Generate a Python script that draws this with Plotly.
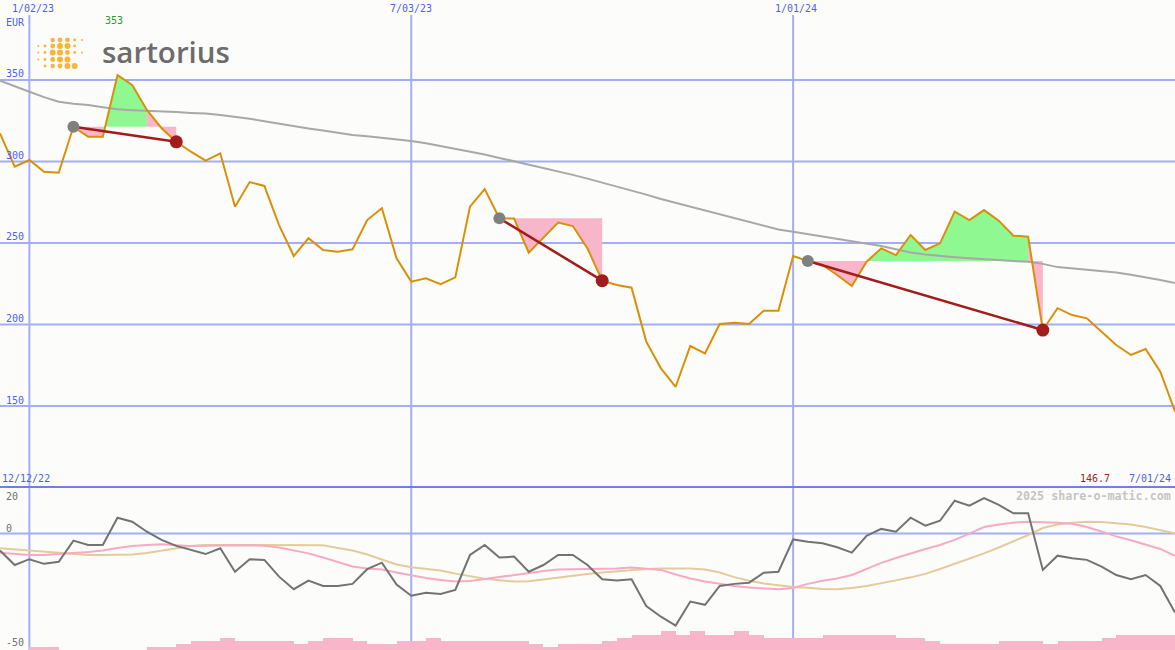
import plotly.graph_objects as go
import pandas as pd

# ---------------- data ----------------
start_date = "2022-12-19"
end_date = "2024-07-01"

price = [317.3, 296.8, 300.9, 293.7, 293.1, 321.3, 315.2, 315.2, 353.0, 347.0,
         331.6, 320.4, 312.1, 306.0, 300.5, 305.0, 272.3, 287.4, 285.0, 261.0,
         242.0, 252.9, 245.7, 244.7, 246.1, 264.1, 271.3, 240.6, 226.3, 228.3,
         224.8, 228.9, 272.3, 283.1, 265.2, 265.0, 244.1, 253.3, 262.5, 260.4,
         246.7, 226.9, 224.2, 222.6, 189.5, 173.1, 161.8, 186.8, 182.3, 200.3,
         201.1, 200.3, 208.5, 208.5, 242.0, 239.0, 236.5, 230.4, 223.6, 238.5,
         246.7, 242.6, 254.9, 245.7, 249.8, 269.2, 264.1, 270.2, 263.7, 254.5,
         253.9, 196.6, 210.0, 205.8, 203.8, 195.6, 187.4, 181.3, 185.0, 171.0, 146.7]

moving_avg = [349.6, 346.0, 342.8, 339.5, 336.7, 335.5, 334.7, 333.3, 332.0, 331.5,
              331.2, 330.7, 330.3, 329.8, 329.4, 328.5, 327.5, 326.2, 324.7, 323.1,
              321.5, 320.3, 319.0, 317.6, 316.3, 315.5, 314.6, 313.6, 312.6, 311.2,
              309.5, 307.7, 306.0, 304.3, 302.2, 300.2, 298.2, 296.2, 294.2, 291.8,
              289.5, 287.1, 284.8, 282.3, 279.7, 277.0, 274.7, 272.4, 270.1, 267.8,
              265.5, 263.0, 260.6, 258.3, 256.9, 255.5, 254.0, 252.4, 250.9, 249.5,
              248.2, 246.2, 244.2, 243.0, 242.0, 241.3, 240.6, 239.9, 239.4, 238.9,
              238.5, 237.2, 235.2, 234.4, 233.6, 232.7, 231.9, 230.5, 229.1, 227.3, 225.5]

oscillator = [-7.3, -13.5, -11.0, -13.0, -12.1, -3.0, -4.9, -4.9, 6.8, 5.1,
              0.8, -2.7, -5.3, -7.0, -8.8, -6.3, -16.4, -11.0, -11.3, -18.5,
              -23.9, -20.2, -22.5, -22.5, -21.6, -15.3, -12.5, -21.9, -26.7, -25.4,
              -25.9, -24.2, -9.2, -4.9, -10.3, -9.9, -16.4, -13.5, -9.2, -9.2,
              -13.5, -19.6, -20.2, -19.6, -31.1, -35.7, -39.5, -29.2, -30.6, -22.5,
              -21.6, -21.1, -16.8, -16.4, -2.5, -3.5, -4.2, -5.9, -8.2, -1.0,
              2.0, 0.8, 6.8, 3.4, 5.5, 14.1, 12.0, 15.2, 12.3, 8.7,
              8.7, -15.6, -9.5, -10.6, -11.3, -14.2, -17.8, -19.6, -17.8, -22.5, -33.9]

signal_fast = [-8.2, -8.8, -9.2, -9.2, -8.9, -8.3, -7.9, -7.3, -6.2, -5.3,
               -4.9, -4.6, -5.0, -5.3, -5.2, -5.0, -5.0, -5.1, -5.2, -6.0,
               -7.3, -8.5, -10.3, -12.2, -14.1, -15.0, -15.4, -16.7, -18.0, -19.1,
               -19.9, -20.6, -20.4, -19.5, -18.6, -17.8, -16.9, -16.1, -15.4, -15.2,
               -15.2, -15.1, -15.0, -14.6, -15.1, -15.6, -17.6, -19.3, -20.6, -21.6,
               -22.5, -23.2, -23.6, -23.9, -23.4, -21.6, -20.3, -19.3, -17.8, -15.2,
               -12.6, -10.5, -8.5, -6.6, -4.9, -2.7, 0.0, 2.8, 3.9, 4.7,
               5.1, 5.0, 4.6, 4.2, 2.8, 0.9, -1.2, -2.9, -4.7, -6.6, -9.6]

signal_slow = [-6.3, -6.8, -7.3, -7.7, -8.2, -9.0, -9.2, -9.2, -9.2, -9.0,
               -8.3, -7.3, -6.0, -5.3, -4.9, -4.9, -4.9, -4.8, -4.7, -4.7,
               -4.7, -4.9, -5.0, -6.2, -7.3, -9.0, -11.3, -13.3, -14.5, -15.1,
               -15.9, -17.2, -18.4, -19.4, -20.0, -20.6, -20.5, -19.7, -18.7, -18.0,
               -17.4, -16.7, -16.1, -15.6, -15.2, -15.0, -14.9, -15.0, -15.4, -16.7,
               -18.7, -20.3, -21.4, -22.3, -22.9, -23.3, -23.8, -23.9, -23.4, -22.5,
               -21.4, -20.1, -18.8, -17.3, -15.2, -13.0, -10.9, -8.5, -6.0, -3.4,
               -0.6, 2.4, 3.9, 4.6, 5.1, 5.0, 4.5, 3.9, 2.8, 1.5, 0.1]

volume_bars = [0, 0, 3, 3, 0, 0, 0, 0, 0, 0,
               3, 3, 6, 9, 9, 12, 9, 9, 9, 9,
               6, 9, 12, 12, 9, 6, 6, 9, 9, 12,
               9, 9, 9, 9, 9, 9, 6, 3, 6, 6,
               6, 9, 12, 15, 15, 19, 15, 19, 15, 15,
               19, 15, 12, 12, 12, 12, 15, 15, 15, 15,
               15, 12, 12, 9, 6, 6, 6, 6, 9, 9,
               9, 6, 9, 9, 9, 12, 15, 15, 15, 15, 15]

trade_buy_idx = [5, 34, 55]
trade_sell_idx = [12, 41, 71]

grid_dates = ["2023-01-02", "2023-07-03", "2024-01-01"]
grid_labels = ["1/02/23", "7/03/23", "1/01/24"]
price_ticks = [350, 300, 250, 200, 150]
osc_tick_labels = ["20", "0", "-50"]

dates = pd.date_range(start_date, periods=len(price), freq="7D")

# ---------------- styling ----------------
W, H = 1175, 650
BG = "#fcfdfa"
GRID = "#a4aef4"
SEP = "#6f7fe6"
BLUE_TXT = "#4e5ff0"
PRICE_C = "#d8900a"
MA_C = "#a8a8a8"
GREEN_F = "#90f890"
PINK_F = "#f9b5ca"
RED = "#a31c1c"
MONO = "DejaVu Sans Mono"

SPLIT = 487  # pixel row of the panel separator


def px(x):
    return x / W


def py(y):
    return 1 - y / H


fig = go.Figure()

# ---- trade fills (green above entry level, pink below, by segment end) ----
for b, s in zip(trade_buy_idx, trade_sell_idx):
    level = price[b]
    runs = []
    for i in range(b, s):
        col = GREEN_F if price[i + 1] >= level else PINK_F
        if runs and runs[-1][0] == col:
            runs[-1][2] = i + 1
        else:
            runs.append([col, i, i + 1])
    for col, a, c in runs:
        xs = [dates[a]] + list(dates[a:c + 1]) + [dates[c]]
        ys = [level] + price[a:c + 1] + [level]
        fig.add_trace(go.Scatter(x=xs, y=ys, mode="lines", fill="toself",
                                 fillcolor=col, line=dict(width=0, color=col),
                                 hoverinfo="skip", showlegend=False,
                                 xaxis="x", yaxis="y"))

# ---- moving average and price ----
fig.add_trace(go.Scatter(x=dates, y=moving_avg, mode="lines",
                         line=dict(color=MA_C, width=2), showlegend=False,
                         xaxis="x", yaxis="y"))
fig.add_trace(go.Scatter(x=dates, y=price, mode="lines",
                         line=dict(color=PRICE_C, width=2), showlegend=False,
                         xaxis="x", yaxis="y"))

# ---- trade lines and markers ----
for b, s in zip(trade_buy_idx, trade_sell_idx):
    fig.add_trace(go.Scatter(x=[dates[b], dates[s]], y=[price[b], price[s]],
                             mode="lines", line=dict(color=RED, width=2.5),
                             showlegend=False, xaxis="x", yaxis="y"))
fig.add_trace(go.Scatter(x=[dates[i] for i in trade_buy_idx],
                         y=[price[i] for i in trade_buy_idx], mode="markers",
                         marker=dict(color="#808080", size=12),
                         showlegend=False, xaxis="x", yaxis="y"))
fig.add_trace(go.Scatter(x=[dates[i] for i in trade_sell_idx],
                         y=[price[i] for i in trade_sell_idx], mode="markers",
                         marker=dict(color=RED, size=13),
                         showlegend=False, xaxis="x", yaxis="y"))

# ---- lower panel ----
fig.add_trace(go.Bar(x=dates, y=volume_bars, offset=0, width=7 * 86400000,
                     marker=dict(color="#f9b5ca", line=dict(width=0)),
                     showlegend=False, xaxis="x", yaxis="y3"))
fig.add_trace(go.Scatter(x=dates, y=signal_slow, mode="lines",
                         line=dict(color="#e4cc9a", width=2), showlegend=False,
                         xaxis="x", yaxis="y2"))
fig.add_trace(go.Scatter(x=dates, y=signal_fast, mode="lines",
                         line=dict(color="#f8aac4", width=2), showlegend=False,
                         xaxis="x", yaxis="y2"))
fig.add_trace(go.Scatter(x=dates, y=oscillator, mode="lines",
                         line=dict(color="#737373", width=2), showlegend=False,
                         xaxis="x", yaxis="y2"))

# ---------------- shapes ----------------
shapes = []
for v in price_ticks:
    shapes.append(dict(type="line", xref="paper", yref="y", x0=0, x1=1,
                       y0=v, y1=v, line=dict(color=GRID, width=2), layer="below"))
shapes.append(dict(type="line", xref="paper", yref="y2", x0=0, x1=1,
                   y0=0, y1=0, line=dict(color=GRID, width=2), layer="below"))
for d in grid_dates:
    shapes.append(dict(type="line", xref="x", yref="paper", x0=d, x1=d,
                       y0=0, y1=py(15), line=dict(color=GRID, width=2),
                       layer="below"))
shapes.append(dict(type="line", xref="paper", yref="paper", x0=0, x1=1,
                   y0=py(SPLIT), y1=py(SPLIT), line=dict(color=SEP, width=2),
                   layer="below"))

# logo dots (decoration)
dot_cols = [38.3, 45.0, 52.7, 60.0, 67.5, 74.7, 82.0]
dot_rows = [40.0, 46.0, 52.5, 59.5, 66.0]
dot_radius = [
    [0, 0, 2.2, 2.4, 2.4, 1.4, 1.0],
    [1.0, 1.4, 2.4, 3.0, 3.0, 1.4, 0],
    [1.0, 1.4, 3.0, 3.0, 2.4, 1.4, 1.0],
    [1.0, 1.4, 2.4, 3.0, 3.0, 0, 0],
    [0, 1.4, 2.2, 2.4, 3.0, 3.0, 0],
]
for r_i, cy in enumerate(dot_rows):
    for c_i, cx in enumerate(dot_cols):
        r = dot_radius[r_i][c_i]
        if r <= 0:
            continue
        shapes.append(dict(type="circle", xref="paper", yref="paper",
                           x0=px(cx - r), x1=px(cx + r),
                           y0=py(cy + r), y1=py(cy - r),
                           fillcolor="#f6b53c", line=dict(width=0),
                           layer="above"))

# ---------------- annotations ----------------
ann = []


def text(x, y, s, color, size=10, xanchor="left", weight="normal",
         family=MONO):
    ann.append(dict(xref="paper", yref="paper", x=px(x), y=py(y), text=s,
                    showarrow=False, xanchor=xanchor, yanchor="middle",
                    font=dict(family=family, size=size, color=color,
                              weight=weight)))


text(33.4, 8, grid_labels[0], BLUE_TXT, xanchor="center")
text(410.5, 8, grid_labels[1], BLUE_TXT, xanchor="center")
text(796, 8, grid_labels[2], BLUE_TXT, xanchor="center")
text(4, 22, "EUR", BLUE_TXT)
text(113.5, 21, "%d" % round(max(price)), "#2a9a2a", xanchor="center")
for v in price_ticks:
    text(4, 80 + (350 - v) * 1.63 - 6, str(v), BLUE_TXT)
text(0, 478, "12/12/22", BLUE_TXT)
text(1112, 478, "%.1f" % price[-1], RED, xanchor="right")
text(1172.5, 478, "7/01/24", BLUE_TXT, xanchor="right")
text(1173, 496, "2025 share-o-matic.com", "#c4c4c4", size=11.7,
     xanchor="right", weight="bold")
text(4, 496, osc_tick_labels[0], "#707070")
text(4, 528, osc_tick_labels[1], "#707070")
text(4, 642, osc_tick_labels[2], "#707070")
text(100, 52, "sartorius", "#6c6c6c", size=29.5, weight=600, family="Open Sans")

# ---------------- layout ----------------
top_lo = 350 - (SPLIT - 80) / 1.63
top_hi = 350 + 80 / 1.63
fig.update_layout(
    width=W, height=H, margin=dict(l=0, r=0, t=0, b=0),
    paper_bgcolor=BG, plot_bgcolor=BG, showlegend=False, bargap=0,
    hovermode=False,
    xaxis=dict(type="date", range=[start_date, end_date], visible=False,
               fixedrange=True),
    yaxis=dict(domain=[py(SPLIT), 1], range=[top_lo, top_hi], visible=False,
               fixedrange=True),
    yaxis2=dict(domain=[0, py(SPLIT)], range=[-50, 20], visible=False,
                fixedrange=True),
    yaxis3=dict(overlaying="y2", range=[0, H - SPLIT], visible=False,
                fixedrange=True),
    shapes=shapes, annotations=ann,
)

fig.write_html(
    "out.html",
    config={"displayModeBar": False, "staticPlot": True},
    post_script="document.body.style.margin='0';document.body.style.padding='0';",
)
